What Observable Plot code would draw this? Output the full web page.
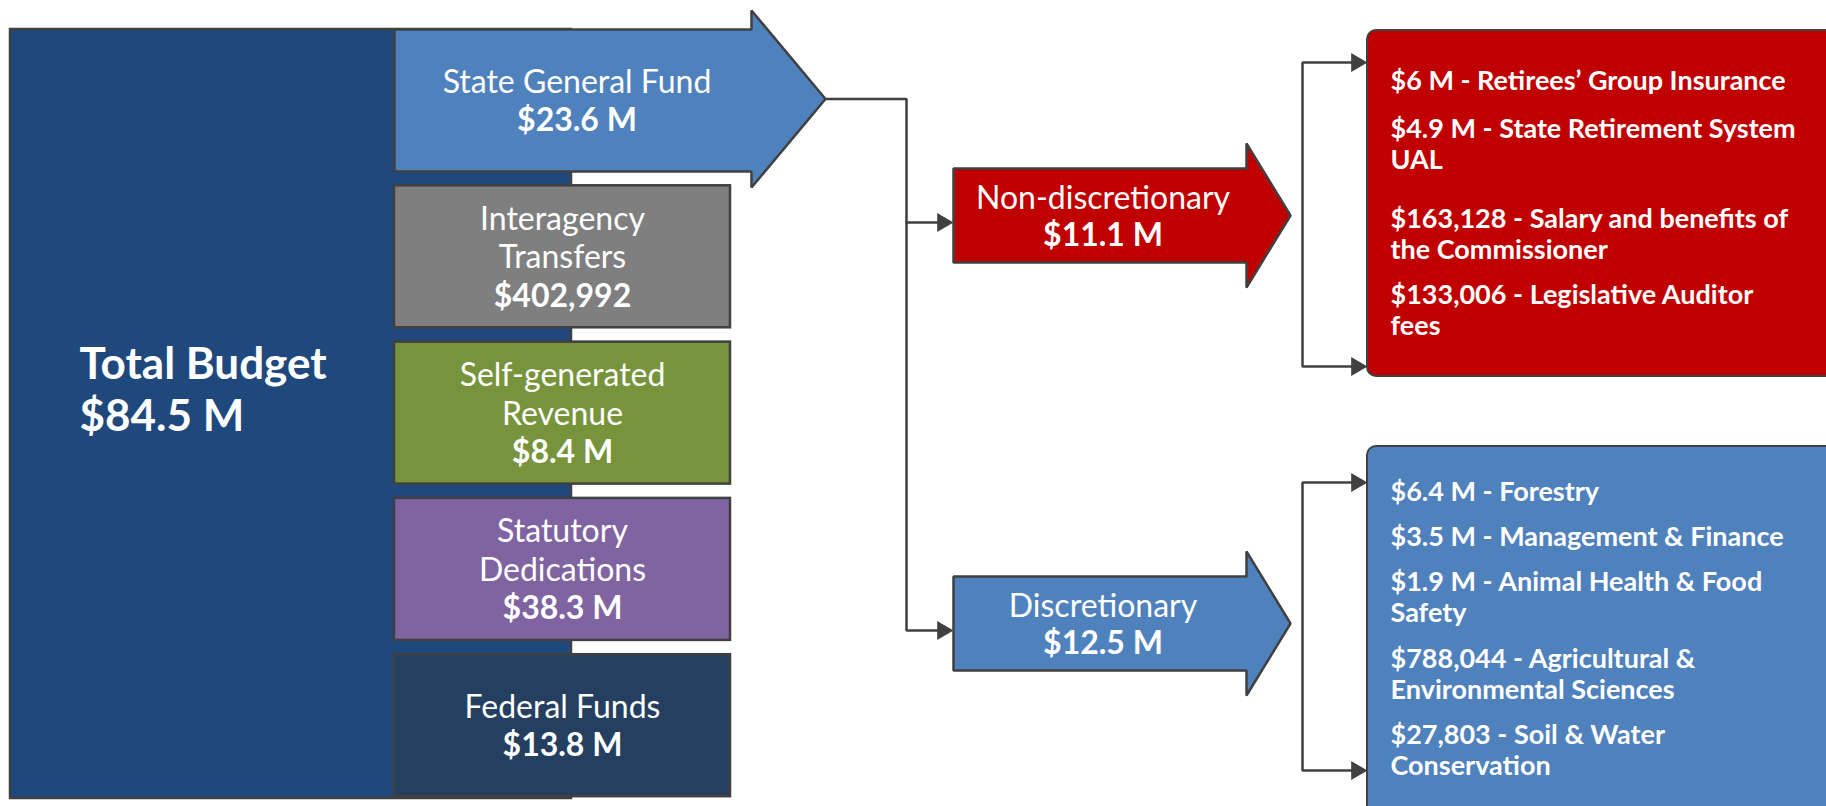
<!DOCTYPE html>
<html><head><meta charset="utf-8">
<script src="https://cdn.jsdelivr.net/npm/d3@7"></script>
<script src="https://cdn.jsdelivr.net/npm/@observablehq/plot@0.6"></script>
<style>html,body{margin:0;padding:0;background:#fff;overflow:hidden}</style>
</head><body><div id="chart"></div>
<script>
// ---- data ----
const totalLabel = "Total Budget";
const totalValue = "$84.5 M";
const sourceNames = ["State General Fund", "Interagency\nTransfers", "Self-generated\nRevenue", "Statutory\nDedications", "Federal Funds"];
const sourceValues = ["$23.6 M", "$402,992", "$8.4 M", "$38.3 M", "$13.8 M"];
const splitNames = ["Non-discretionary", "Discretionary"];
const splitValues = ["$11.1 M", "$12.5 M"];
const nonDiscItems = ["$6 M - Retirees’ Group Insurance", "$4.9 M - State Retirement System\nUAL", "$163,128 - Salary and benefits of\nthe Commissioner", "$133,006 - Legislative Auditor\nfees"];
const discItems = ["$6.4 M - Forestry", "$3.5 M - Management & Finance", "$1.9 M - Animal Health & Food\nSafety", "$788,044 - Agricultural &\nEnvironmental Sciences", "$27,803 - Soil & Water\nConservation"];
const palette = ["#1F497D", "#4F81BD", "#7F7F7F", "#77933C", "#8064A2", "#243F60", "#C00000", "#4F81BD"];

// ---- layout (styles & positions) ----
const L = {
  total: {x1: 10, x2: 571, y1: 29, y2: 798, tx: 79, ty: 378, fs: 44, lh: 52},
  src: {x1: 394, x2: 730, y0: 29, pitch: 156.3, h: 142, fs: 32, lh: 38.5},
  sgf: {x2: 751, headTop: 10, headBot: 187, tip: 825},
  spine: 906,
  split: {x1: 953, x2: 1246, tip: 1290, cy: [215, 623], half: 47, headHalf: 72, lh: 37},
  bracket: 1302,
  list: {x1: 1367, x2: 1850, boxes: [[30, 376], [446, 840]], first: [89, 500], gaps: [[17, 28, 14], [14, 14, 15, 14]], lh: 31, fs: 27, tx: 1390, span: [[62, 366], [482, 770]]}
};
const FONT = "Lato, 'Open Sans', sans-serif";
const STROKE = "#404040";
const triOff = 10.9;

const catDomain = ["total", ...sourceNames, ...splitNames];

// rects
const rects = [{x1: L.total.x1, x2: L.total.x2, y1: L.total.y1, y2: L.total.y2, cat: "total"}];
sourceNames.forEach((n, i) => {
  if (i === 0) return;
  const y1 = L.src.y0 + i * L.src.pitch;
  rects.push({x1: L.src.x1, x2: L.src.x2, y1, y2: y1 + L.src.h, cat: n});
});

// arrow polygons
const arrowPts = [];
const addArrow = (id, cat, x1, x2, tip, y1, y2, hTop, hBot) => {
  const cy = (hTop + hBot) / 2;
  [[x1, y1], [x2, y1], [x2, hTop], [tip, cy], [x2, hBot], [x2, y2], [x1, y2]]
    .forEach(([x, y]) => arrowPts.push({id, cat, x, y}));
};
const sgfY1 = L.src.y0, sgfY2 = L.src.y0 + L.src.h;
addArrow("sgf", sourceNames[0], L.src.x1, L.sgf.x2, L.sgf.tip, sgfY1, sgfY2, L.sgf.headTop, L.sgf.headBot);
splitNames.forEach((n, i) => {
  const c = L.split.cy[i];
  addArrow("split" + i, n, L.split.x1, L.split.x2, L.split.tip, c - L.split.half, c + L.split.half, c - L.split.headHalf, c + L.split.headHalf);
});

// connectors
const tipY = (L.sgf.headTop + L.sgf.headBot) / 2;
const conn = [];
const tris = [];
const seg = (id, pts) => pts.forEach(([x, y]) => conn.push({id, x, y}));
const bY = L.split.cy.map(c => c + 7);
seg("main", [[L.sgf.tip, tipY], [L.spine, tipY], [L.spine, bY[1]], [L.split.x1 - triOff, bY[1]]]);
seg("b0", [[L.spine, bY[0]], [L.split.x1 - triOff, bY[0]]]);
bY.forEach(y => tris.push({x: L.split.x1 - triOff, y}));
L.list.span.forEach(([a, b], i) => {
  seg("br" + i, [[L.list.x1 - triOff, a], [L.bracket, a], [L.bracket, b], [L.list.x1 - triOff, b]]);
  tris.push({x: L.list.x1 - triOff, y: a}, {x: L.list.x1 - triOff, y: b});
});

// list boxes
const listBoxes = L.list.boxes.map(([y1, y2], i) => ({x1: L.list.x1, x2: L.list.x2, y1, y2, cat: splitNames[i]}));

// text lines
const centerNormal = [], centerBold = [], startBold = [];
startBold.push({x: L.total.tx, y: L.total.ty, text: totalLabel, fs: L.total.fs});
startBold.push({x: L.total.tx, y: L.total.ty + L.total.lh, text: totalValue, fs: L.total.fs});
sourceNames.forEach((n, i) => {
  const y1 = L.src.y0 + i * L.src.pitch;
  const cy = y1 + L.src.h / 2;
  const cx = i === 0 ? (L.src.x1 + L.sgf.x2) / 2 + 4 : (L.src.x1 + L.src.x2) / 2;
  const parts = n.split("\n");
  const m = parts.length + 1;
  parts.forEach((t, k) => centerNormal.push({x: cx, y: cy + 11.5 + (k - (m - 1) / 2) * L.src.lh, text: t}));
  centerBold.push({x: cx, y: cy + 11.5 + (m - 1 - (m - 1) / 2) * L.src.lh, text: sourceValues[i]});
});
splitNames.forEach((n, i) => {
  const cy = L.split.cy[i];
  const cx = (L.split.x1 + L.split.x2) / 2 + 3;
  centerNormal.push({x: cx, y: cy + 11.5 - L.split.lh / 2, text: n});
  centerBold.push({x: cx, y: cy + 11.5 + L.split.lh / 2, text: splitValues[i]});
});
[nonDiscItems, discItems].forEach((items, b) => {
  let y = L.list.first[b];
  items.forEach((it, j) => {
    it.split("\n").forEach(t => {
      startBold.push({x: L.list.tx, y, text: t, fs: L.list.fs});
      y += L.list.lh;
    });
    y += L.list.gaps[b][j] ?? 0;
  });
});

const chart = Plot.plot({
  width: 1826, height: 806, margin: 0,
  x: {type: "identity", axis: null},
  y: {type: "identity", axis: null},
  color: {type: "ordinal", domain: catDomain, range: palette},
  style: {background: "#fff", overflow: "hidden"},
  marks: [
    Plot.rect(rects, {x1: "x1", x2: "x2", y1: "y1", y2: "y2", fill: "cat", stroke: STROKE, strokeWidth: 2.5}),
    Plot.line(arrowPts, {x: "x", y: "y", z: "id", fill: "cat", stroke: STROKE, strokeWidth: 2.5, curve: "linear-closed", strokeLinejoin: "miter"}),
    Plot.line(conn, {x: "x", y: "y", z: "id", stroke: STROKE, strokeWidth: 2.5, curve: "linear", strokeLinejoin: "miter"}),
    Plot.rect(listBoxes, {x1: "x1", x2: "x2", y1: "y1", y2: "y2", fill: "cat", stroke: STROKE, strokeWidth: 2, rx: 9}),
    Plot.dot(tris, {x: "x", y: "y", symbol: "triangle", r: 7, rotate: 90, fill: STROKE, stroke: "none"}),
    Plot.text(centerNormal, {x: "x", y: "y", text: "text", fill: "white", fontSize: L.src.fs, fontFamily: FONT, textAnchor: "middle", lineAnchor: "bottom"}),
    Plot.text(centerBold, {x: "x", y: "y", text: "text", fill: "white", fontSize: L.src.fs, fontFamily: FONT, fontWeight: "bold", textAnchor: "middle", lineAnchor: "bottom"}),
    Plot.text(startBold, {x: "x", y: "y", text: "text", fill: "white", fontSize: "fs", fontFamily: FONT, fontWeight: "bold", textAnchor: "start", lineAnchor: "bottom"})
  ]
});
document.getElementById("chart").appendChild(chart);
</script>
</body></html>
